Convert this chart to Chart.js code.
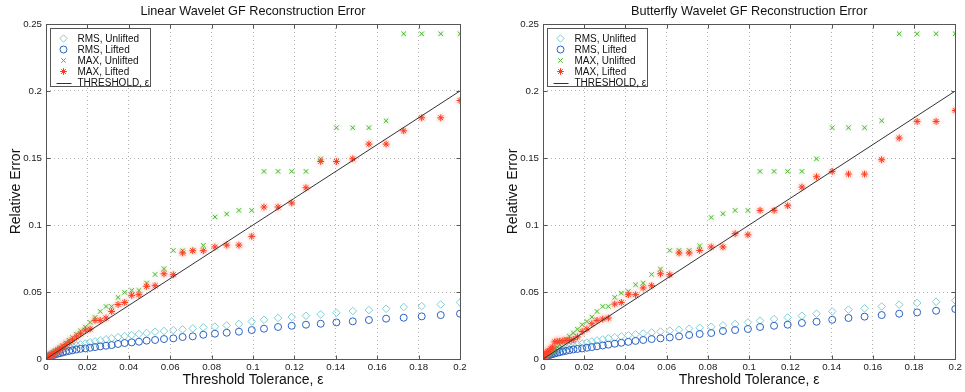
<!DOCTYPE html>
<html>
<head>
<meta charset="utf-8">
<script src="https://cdn.jsdelivr.net/npm/chart.js@4.4.1/dist/chart.umd.min.js"></script>
<style>
  html, body { margin: 0; padding: 0; background: #fff; }
  #wrap { position: relative; width: 965px; height: 392px; overflow: hidden; }
  canvas { position: absolute; top: 0; }
  #linear { left: 0; }
  #butterfly { left: 497px; }
</style>
</head>
<body>
<div id="wrap">
  <canvas id="linear" width="497" height="392"></canvas>
  <canvas id="butterfly" width="468" height="392"></canvas>
</div>
<script>
// threshold tolerance values (x) shared by every series
const tolerance = [0, 0.00001, 0.00005, 0.00015, 0.0003, 0.0005, 0.0008, 0.0012, 0.0017, 0.0023,
  0.003, 0.0038, 0.0047, 0.0057, 0.0068, 0.0081, 0.0096, 0.0112, 0.0128, 0.0147,
  0.0167, 0.019, 0.0213, 0.0237, 0.0262, 0.029, 0.0317, 0.0348, 0.038, 0.0414,
  0.0449, 0.0486, 0.0527, 0.057, 0.0615, 0.066, 0.0709, 0.076, 0.0816, 0.0873,
  0.0932, 0.0994, 0.1053, 0.1121, 0.1187, 0.1256, 0.1327, 0.1403, 0.1482, 0.156,
  0.1643, 0.1728, 0.1815, 0.1907, 0.2];

const linearRmsUnlifted = [0, 0.0002, 0.0005, 0.0008, 0.0012, 0.0016, 0.0021, 0.0026, 0.0031, 0.0037,
  0.0043, 0.0049, 0.0055, 0.0061, 0.0067, 0.0073, 0.0081, 0.0088, 0.0094, 0.0102,
  0.0109, 0.0115, 0.0124, 0.0132, 0.0139, 0.0147, 0.0155, 0.0163, 0.0171, 0.0178,
  0.0186, 0.0194, 0.0204, 0.0209, 0.0216, 0.0221, 0.0228, 0.0236, 0.0241, 0.0251,
  0.0261, 0.028, 0.0293, 0.0306, 0.0313, 0.0323, 0.0333, 0.0345, 0.0358, 0.0365,
  0.0375, 0.0388, 0.0395, 0.0407, 0.0422];
const linearRmsLifted = [0, 0.0001, 0.0002, 0.0005, 0.0007, 0.0009, 0.0012, 0.0016, 0.0019, 0.0023,
  0.0027, 0.0031, 0.0036, 0.004, 0.0044, 0.0049, 0.0055, 0.006, 0.0065, 0.0071,
  0.0076, 0.0079, 0.0084, 0.0089, 0.0094, 0.0099, 0.0104, 0.0112, 0.0119, 0.0124,
  0.0129, 0.0137, 0.0142, 0.0149, 0.0154, 0.0164, 0.0169, 0.0181, 0.0189, 0.0196,
  0.0204, 0.0216, 0.0226, 0.0239, 0.0248, 0.0256, 0.0263, 0.0273, 0.0281, 0.0291,
  0.0301, 0.0308, 0.0318, 0.0328, 0.0338];
const linearMaxUnlifted = [0, 0.00001, 0.00006, 0.0002, 0.0004, 0.0007, 0.001, 0.0015, 0.0021, 0.0029,
  0.0038, 0.0048, 0.0059, 0.0071, 0.0085, 0.0101, 0.012, 0.014, 0.016, 0.0185,
  0.021, 0.0239, 0.0273, 0.031, 0.0355, 0.0392, 0.0392, 0.046, 0.0497, 0.0512,
  0.0512, 0.0567, 0.0631, 0.0674, 0.081, 0.0808, 0.0808, 0.0848, 0.106, 0.1082,
  0.1109, 0.1109, 0.14, 0.14, 0.14, 0.14, 0.1494, 0.1726, 0.1726, 0.1726,
  0.1778, 0.2427, 0.2427, 0.2427, 0.2427];
const linearMaxLifted = [0, 0.00001, 0.00005, 0.00017, 0.00034, 0.0006, 0.0009, 0.0013, 0.0019, 0.0026,
  0.0034, 0.0043, 0.0053, 0.0064, 0.0076, 0.009, 0.0107, 0.0125, 0.0143, 0.0165,
  0.0188, 0.0215, 0.0224, 0.0288, 0.0288, 0.0306, 0.0355, 0.0407, 0.0422, 0.0475,
  0.048, 0.0542, 0.0547, 0.0636, 0.0629, 0.0791, 0.0808, 0.0808, 0.0836, 0.085,
  0.085, 0.0915, 0.1134, 0.1134, 0.1164, 0.1278, 0.1474, 0.1474, 0.1494, 0.1604,
  0.1604, 0.1703, 0.18, 0.18, 0.1929];

const butterflyRmsUnlifted = [0, 0.0002, 0.0005, 0.0008, 0.0012, 0.0016, 0.0021, 0.0026, 0.0031, 0.0037,
  0.0043, 0.0049, 0.0055, 0.0061, 0.0067, 0.0073, 0.008, 0.0087, 0.0094, 0.0101,
  0.0108, 0.0115, 0.0123, 0.0131, 0.0138, 0.0146, 0.0154, 0.0162, 0.0169, 0.0177,
  0.0184, 0.0191, 0.0198, 0.0205, 0.0212, 0.0219, 0.0226, 0.0233, 0.0241, 0.0251,
  0.0261, 0.0273, 0.0286, 0.0298, 0.031, 0.0323, 0.0338, 0.0355, 0.0368, 0.0378,
  0.0392, 0.0405, 0.0418, 0.0427, 0.0437];
const butterflyRmsLifted = [0, 0.0001, 0.0002, 0.0005, 0.0007, 0.001, 0.0013, 0.0017, 0.0021, 0.0025,
  0.0029, 0.0033, 0.0037, 0.0042, 0.0046, 0.0051, 0.0056, 0.0061, 0.0066, 0.0071,
  0.0075, 0.0079, 0.0084, 0.0089, 0.0095, 0.0101, 0.0107, 0.0114, 0.0121, 0.0128,
  0.0135, 0.0142, 0.0149, 0.0154, 0.0161, 0.0169, 0.0179, 0.0187, 0.0194, 0.0209,
  0.0216, 0.0224, 0.0239, 0.0248, 0.0256, 0.0269, 0.0278, 0.0293, 0.0306, 0.0316,
  0.0328, 0.0338, 0.0348, 0.036, 0.0373];
const butterflyMaxUnlifted = [0, 0.00001, 0.00006, 0.0002, 0.0004, 0.0007, 0.0011, 0.0016, 0.0022, 0.003,
  0.0039, 0.0049, 0.0061, 0.0074, 0.0089, 0.0106, 0.0126, 0.0148, 0.017, 0.0195,
  0.0222, 0.0256, 0.028, 0.0313, 0.0355, 0.0392, 0.0392, 0.046, 0.0492, 0.0504,
  0.0554, 0.0567, 0.0631, 0.0671, 0.081, 0.081, 0.081, 0.0845, 0.1056, 0.1084,
  0.1109, 0.1109, 0.14, 0.14, 0.14, 0.14, 0.1494, 0.1726, 0.1726, 0.1726,
  0.1778, 0.2427, 0.2427, 0.2427, 0.2427];
const butterflyMaxLifted = [0, 0.00002, 0.0001, 0.0004, 0.0008, 0.0015, 0.0025, 0.0035, 0.0045, 0.0055,
  0.006, 0.0075, 0.009, 0.0128, 0.013, 0.0132, 0.0135, 0.0138, 0.014, 0.0145,
  0.0165, 0.0205, 0.0224, 0.0263, 0.0288, 0.0298, 0.0306, 0.041, 0.0422, 0.048,
  0.048, 0.053, 0.0547, 0.0636, 0.0629, 0.0791, 0.0791, 0.081, 0.0836, 0.0836,
  0.0935, 0.0927, 0.1109, 0.1109, 0.1144, 0.1283, 0.136, 0.14, 0.138, 0.138,
  0.1487, 0.1649, 0.1773, 0.1773, 0.1855];

const thresholdX = [0, 0.2];
const thresholdY = [0, 0.2];

const xTicks = [0, 0.02, 0.04, 0.06, 0.08, 0.1, 0.12, 0.14, 0.16, 0.18, 0.2];
const xTickLabels = ['0', '0.02', '0.04', '0.06', '0.08', '0.1', '0.12', '0.14', '0.16', '0.18', '0.2'];
const yTicks = [0, 0.05, 0.1, 0.15, 0.2, 0.25];
const yTickLabels = ['0', '0.05', '0.1', '0.15', '0.2', '0.25'];

const seriesNames = ['RMS, Unlifted', 'RMS, Lifted', 'MAX, Unlifted', 'MAX, Lifted', 'THRESHOLD, \u03b5'];
const seriesColors = ['#7fcfd6', '#2a62c4', '#4fb82e', '#ff3a1c', '#333333'];
// soft halo around the MAX markers, as in the source image
const seriesGlow = [null, null, 'rgba(120, 210, 100, 0.7)', 'rgba(255, 110, 90, 0.75)', null];

const FONT = '"Liberation Sans", Arial, Helvetica, sans-serif';
Chart.defaults.font.family = FONT;
Chart.defaults.color = '#222';

function drawMarker(ctx, style, x, y, r) {
    ctx.beginPath();
    if (style === 'circle') {
        ctx.arc(x, y, r, 0, Math.PI * 2);
    } else if (style === 'rectRot') {
        ctx.moveTo(x, y - r); ctx.lineTo(x + r, y); ctx.lineTo(x, y + r); ctx.lineTo(x - r, y); ctx.closePath();
    } else if (style === 'crossRot' || style === 'star') {
        const d = r * Math.SQRT1_2;
        ctx.moveTo(x - d, y - d); ctx.lineTo(x + d, y + d);
        ctx.moveTo(x - d, y + d); ctx.lineTo(x + d, y - d);
        if (style === 'star') {
            ctx.moveTo(x - r, y); ctx.lineTo(x + r, y);
            ctx.moveTo(x, y - r); ctx.lineTo(x, y + r);
        }
    }
    ctx.stroke();
}

const matlabFrame = {
    id: 'matlabFrame',
    beforeDatasetDraw(chart, args) {
        const glow = seriesGlow[args.index];
        if (glow) {
            chart.ctx.save();
            chart.ctx.shadowColor = glow;
            chart.ctx.shadowBlur = args.index === 3 ? 4 : 3;
        }
    },
    afterDatasetDraw(chart, args) {
        if (seriesGlow[args.index]) chart.ctx.restore();
    },
    afterDraw(chart, args, opts) {
        const ctx = chart.ctx;
        const { left, right, top, bottom } = chart.chartArea;
        const xs = chart.scales.x, ys = chart.scales.y;
        const L = Math.round(left) + 0.5, R = Math.round(right) + 0.5;
        const T = Math.round(top) + 0.5, B = Math.round(bottom) + 0.5;
        ctx.save();
        ctx.strokeStyle = '#555';
        ctx.lineWidth = 1;
        ctx.strokeRect(L, T, R - L, B - T);
        ctx.beginPath();
        xTicks.forEach(v => {
            const px = Math.round(xs.getPixelForValue(v)) + 0.5;
            ctx.moveTo(px, B); ctx.lineTo(px, B - 4);
            ctx.moveTo(px, T); ctx.lineTo(px, T + 4);
        });
        yTicks.forEach(v => {
            const py = Math.round(ys.getPixelForValue(v)) + 0.5;
            ctx.moveTo(L, py); ctx.lineTo(L + 4, py);
            ctx.moveTo(R, py); ctx.lineTo(R - 4, py);
        });
        ctx.stroke();

        // title
        ctx.fillStyle = '#111';
        ctx.font = '12.7px ' + FONT;
        ctx.textAlign = 'center';
        ctx.textBaseline = 'middle';
        ctx.fillText(opts.title, (left + right) / 2, 11);

        // legend box
        const lx = Math.round(left) + 4.5, ly = Math.round(top) + 4.5;
        ctx.fillStyle = '#fff';
        ctx.fillRect(lx, ly, 100, 58);
        ctx.strokeStyle = '#555';
        ctx.strokeRect(lx, ly, 100, 58);
        const rows = [10, 21, 32, 43, 54.5];
        const styles = ['rectRot', 'circle', 'crossRot', 'star', 'line'];
        const radii = [3.7, 3.5, 3.2, 3.4, 0];
        ctx.font = '10px ' + FONT;
        ctx.textAlign = 'left';
        rows.forEach((dy, i) => {
            const y = ly + dy;
            ctx.strokeStyle = seriesColors[i];
            ctx.lineWidth = 1;
            if (styles[i] === 'line') {
                ctx.beginPath();
                ctx.moveTo(lx + 6, Math.round(y) + 0.5);
                ctx.lineTo(lx + 21, Math.round(y) + 0.5);
                ctx.stroke();
            } else {
                drawMarker(ctx, styles[i], lx + 13, y, radii[i]);
            }
            ctx.fillStyle = '#111';
            ctx.fillText(seriesNames[i], lx + 27, y + 0.5);
        });
        ctx.restore();
    }
};

function toPoints(xs, ys) {
    return xs.map((x, i) => ({ x: x, y: ys[i] }));
}

function markerSet(i, data, style, radius, order) {
    return {
        label: seriesNames[i],
        data: data,
        showLine: false,
        pointStyle: style,
        pointRadius: radius,
        pointBorderWidth: 1,
        pointBorderColor: seriesColors[i],
        pointBackgroundColor: 'rgba(0,0,0,0)',
        borderColor: seriesColors[i],
        order: order
    };
}

function makeChart(canvasId, title, rmsUnlifted, rmsLifted, maxUnlifted, maxLifted, padRight) {
    const ctx = document.getElementById(canvasId).getContext('2d');
    return new Chart(ctx, {
        type: 'scatter',
        data: {
            datasets: [
                markerSet(0, toPoints(tolerance, rmsUnlifted), 'rectRot', 3.8, 4),
                markerSet(1, toPoints(tolerance, rmsLifted), 'circle', 3.5, 3),
                markerSet(2, toPoints(tolerance, maxUnlifted), 'crossRot', 3.2, 2),
                markerSet(3, toPoints(tolerance, maxLifted), 'star', 3.4, 1),
                {
                    label: seriesNames[4],
                    data: toPoints(thresholdX, thresholdY),
                    showLine: true,
                    borderColor: seriesColors[4],
                    borderWidth: 1,
                    pointRadius: 0,
                    order: 0
                }
            ]
        },
        options: {
            responsive: false,
            animation: false,
            events: [],
            layout: { padding: { top: 24, right: padRight, left: 0, bottom: 0 } },
            scales: {
                x: {
                    type: 'linear',
                    min: 0,
                    max: 0.2,
                    afterBuildTicks: scale => { scale.ticks = xTicks.map(v => ({ value: v })); },
                    afterFit: scale => { scale.height = 33; },
                    ticks: {
                        autoSkip: false,
                        maxRotation: 0,
                        padding: 3,
                        font: { size: 9.7 },
                        color: '#222',
                        callback: (v, i) => xTickLabels[i]
                    },
                    grid: { color: '#b4b4b4', drawTicks: false },
                    border: { display: false, dash: [1, 3] },
                    title: {
                        display: true,
                        text: 'Threshold Tolerance, \u03b5',
                        font: { size: 14 },
                        color: '#111',
                        padding: { top: 0, bottom: 3 }
                    }
                },
                y: {
                    type: 'linear',
                    min: 0,
                    max: 0.25,
                    afterBuildTicks: scale => { scale.ticks = yTicks.map(v => ({ value: v })); },
                    afterFit: scale => { scale.width = 46; },
                    ticks: {
                        autoSkip: false,
                        padding: 4,
                        font: { size: 9.7 },
                        color: '#222',
                        callback: (v, i) => yTickLabels[i]
                    },
                    grid: { color: '#b4b4b4', drawTicks: false },
                    border: { display: false, dash: [1, 3] },
                    title: {
                        display: true,
                        text: 'Relative Error',
                        font: { size: 14 },
                        color: '#111',
                        padding: { top: 8, bottom: 0 }
                    }
                }
            },
            plugins: {
                legend: { display: false },
                tooltip: { enabled: false },
                matlabFrame: { title: title }
            }
        },
        plugins: [matlabFrame]
    });
}

makeChart('linear', 'Linear Wavelet GF Reconstruction Error',
    linearRmsUnlifted, linearRmsLifted, linearMaxUnlifted, linearMaxLifted, 37);
makeChart('butterfly', 'Butterfly Wavelet GF Reconstruction Error',
    butterflyRmsUnlifted, butterflyRmsLifted, butterflyMaxUnlifted, butterflyMaxLifted, 7);
</script>
</body>
</html>
